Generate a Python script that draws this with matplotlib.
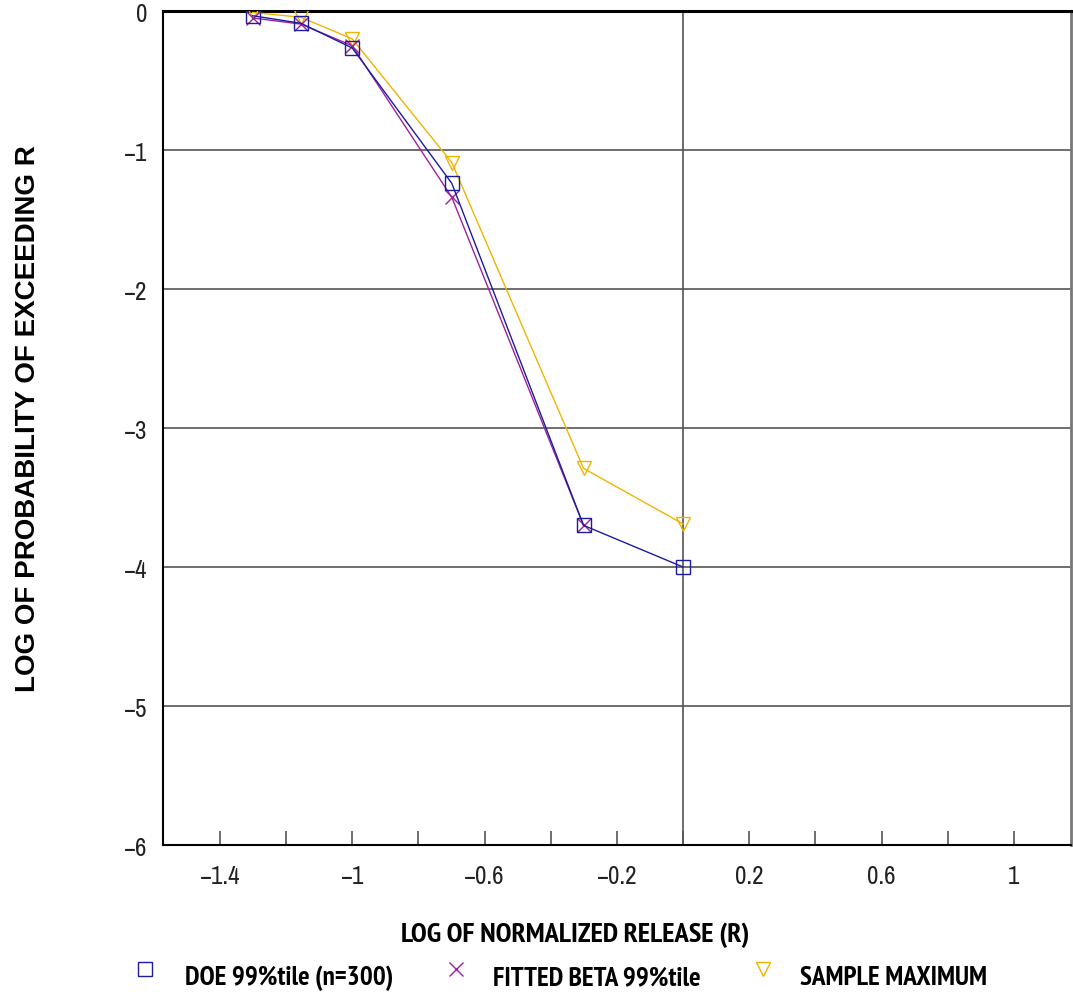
import matplotlib
matplotlib.use("Agg")
import matplotlib.pyplot as plt
import matplotlib.font_manager as fm
from matplotlib.lines import Line2D

# log10 of normalized release
log_r = [-1.301, -1.155, -1.0, -0.699, -0.301, 0.0]

doe_99 = [-0.034, -0.088, -0.266, -1.24, -3.70, -4.0]
beta_99 = [-0.05, -0.094, -0.25, -1.34, -3.70]
sample_max = [-0.01, -0.045, -0.2, -1.09, -3.29, -3.69]

series_labels = ["DOE 99%tile (n=300)", "FITTED BETA 99%tile", "SAMPLE MAXIMUM"]

c_doe = "#1c1c9c"
c_beta = "#a020a0"
c_max = "#f0b400"


def pick_font(cands, bold=False):
	have = set()
	for f in fm.fontManager.ttflist:
		w = f.weight if isinstance(f.weight, int) else (700 if "bold" in str(f.weight) else 400)
		if not bold or w >= 700:
			have.add(f.name)
	for c in cands:
		if c in have:
			return [c, "DejaVu Sans"]
	return ["DejaVu Sans"]


narrow_list = ["Liberation Sans Narrow", "Arial Narrow", "Archivo Narrow", "PT Sans Narrow",
			   "Roboto Condensed", "Fira Sans Condensed", "IBM Plex Sans Condensed",
			   "Sofia Sans Condensed", "Asap Condensed", "Saira SemiCondensed"]
narrow = pick_font(narrow_list)
narrow_b = pick_font(narrow_list, bold=True)
wide = pick_font(["Liberation Sans", "Arimo", "Arial"], bold=True)

fig = plt.figure(figsize=(10.73, 10.03), dpi=100)
ax = fig.add_axes([0.1519, 0.1565, 0.998 - 0.1519, 0.988 - 0.1565])

# grid
for yv in range(-5, 0):
	ax.axhline(yv, color="#555555", lw=1.2, zorder=1)
ax.axvline(0, color="#555555", lw=1.2, zorder=1)

ax.plot(log_r, sample_max, color=c_max, lw=1.0, marker="v", ms=10, mfc="none",
		mec=c_max, mew=1.0, zorder=3)
ax.plot(log_r[:len(beta_99)], beta_99, color=c_beta, lw=1.0, marker="x", ms=10,
		mec=c_beta, mew=1.0, zorder=4)
ax.plot(log_r, doe_99, color=c_doe, lw=1.0, marker="s", ms=10, mfc="none",
		mec=c_doe, mew=1.0, zorder=5)

ax.set_xlim(-1.572, 1.172)
ax.set_ylim(-6, 0)
ax.set_xticks([-1.4, -1.0, -0.6, -0.2, 0.2, 0.6, 1.0])
ax.set_xticklabels(["\u22121.4", "\u22121", "\u22120.6", "\u22120.2", "0.2", "0.6", "1"])
ax.set_xticks([-1.2, -0.8, -0.4, 0.0, 0.4, 0.8], minor=True)
ax.set_yticks(range(-6, 1))
ax.set_yticklabels(["\u22126", "\u22125", "\u22124", "\u22123", "\u22122", "\u22121", "0"])

ax.tick_params(axis="x", which="both", direction="in", length=10, width=1.2,
			   color="#555555", pad=14)
ax.tick_params(axis="y", length=0, pad=11)
for lab in ax.get_xticklabels() + ax.get_yticklabels():
	lab.set_family(narrow)
	lab.set_fontsize(18)
	lab.set_color("#222222")

ax.spines["top"].set_linewidth(2.2)
ax.spines["left"].set_linewidth(1.5)
ax.spines["bottom"].set_linewidth(1.5)
ax.spines["right"].set_color("#777777")
ax.spines["right"].set_linewidth(2)

fig.text(0.536, 0.068, "LOG OF NORMALIZED RELEASE (R)", ha="center", va="center",
		 family=narrow_b, fontweight="bold", fontsize=20.5)
fig.text(0.026, 0.583, "LOG OF PROBABILITY OF EXCEEDING R", ha="center", va="center",
		 rotation=90, family=wide, fontweight="bold", fontsize=20)

# legend row
leg_marker_x = [0.135, 0.425, 0.711]
leg_text_x = [0.172, 0.459, 0.7456]
leg_style = [("s", c_doe), ("x", c_beta), ("v", c_max)]
for (m, c), mx, tx, lab in zip(leg_style, leg_marker_x, leg_text_x, series_labels):
	fig.add_artist(Line2D([mx], [0.033], transform=fig.transFigure, marker=m, ms=10,
						  mfc="none", mec=c, mew=1.0, ls="none"))
	fig.text(tx, 0.025, lab, ha="left", va="center", family=narrow_b,
			 fontweight="bold", fontsize=19.5)

fig.savefig("out.png", dpi=100)
